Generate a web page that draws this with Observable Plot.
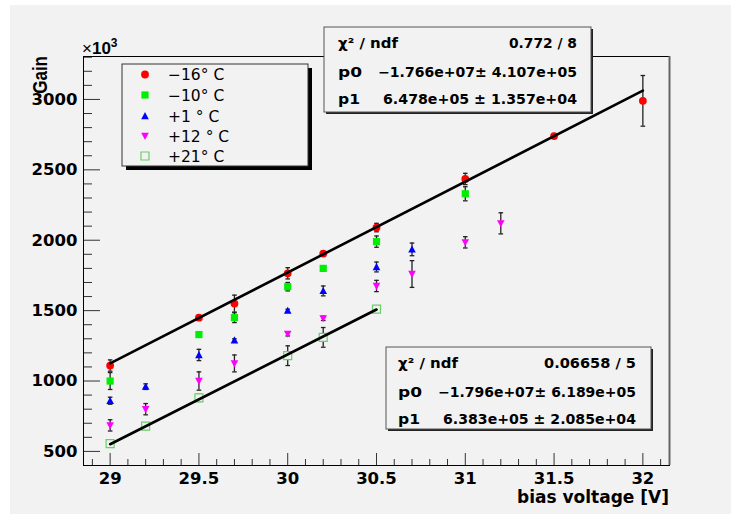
<!DOCTYPE html>
<html><head><meta charset="utf-8">
<script src="https://cdn.jsdelivr.net/npm/d3@7"></script>
<script src="https://cdn.jsdelivr.net/npm/@observablehq/plot@0.6"></script>
<style>
html,body{margin:0;padding:0;background:#fff;}
#wrap{position:relative;width:731px;height:514px;overflow:hidden;}
#bg{position:absolute;left:10px;top:5px;right:0;bottom:0;background:#f2f2f2;}
#wrap svg{position:absolute;left:0;top:0;}
</style></head><body><div id="wrap"><div id="bg"></div></div>
<script>
// ---- data (gain in units of 10^3) ----
const seriesNames = ["\u221216\u00b0 C", "\u221210\u00b0 C", "+1 \u00b0 C", "+12 \u00b0 C", "+21\u00b0 C"];

const vM16 = [29, 29.5, 29.7, 30, 30.2, 30.5, 31, 31.5, 32];
const gM16 = [1110, 1450, 1550, 1765, 1905, 2090, 2435, 2740, 2990];
const eM16 = [40, 10, 60, 40, 15, 30, 40, 10, 180];

const vM10 = [29, 29.5, 29.7, 30, 30.2, 30.5, 31];
const gM10 = [1000, 1330, 1450, 1670, 1800, 1990, 2330];
const eM10 = [60, 20, 35, 30, 15, 40, 50];

const vP1 = [29, 29.2, 29.5, 29.7, 30, 30.2, 30.5, 30.7];
const gP1 = [860, 960, 1185, 1290, 1500, 1640, 1810, 1935];
const eP1 = [25, 20, 40, 10, 10, 35, 35, 45];

const vP12 = [29, 29.2, 29.5, 29.7, 30, 30.2, 30.5, 30.7, 31, 31.2];
const gP12 = [685, 800, 1000, 1125, 1335, 1445, 1675, 1760, 1985, 2120];
const eP12 = [40, 40, 65, 60, 15, 15, 40, 95, 40, 75];

const vP21 = [29, 29.2, 29.5, 30, 30.2, 30.5];
const gP21 = [555, 680, 880, 1180, 1310, 1510];
const eP21 = [15, 15, 25, 70, 70, 15];

// fit line end points
const fitColdV = [29, 32];
const fitColdG = [1125, 3062];
const fitWarmV = [29, 30.5];
const fitWarmG = [551, 1508];

// fit statistics boxes
const statColdLabels = ["\u03c7\u00b2 / ndf", "p0", "p1"];
const statColdValues = ["0.772 / 8", "\u22121.766e+07\u00b1 4.107e+05", "6.478e+05 \u00b1 1.357e+04"];
const statWarmLabels = ["\u03c7\u00b2 / ndf", "p0", "p1"];
const statWarmValues = ["0.06658 / 5", "\u22121.796e+07\u00b1 6.189e+05", "6.383e+05 \u00b1 2.085e+04"];

// axis ticks and titles
const xMajor = [29, 29.5, 30, 30.5, 31, 31.5, 32];
const xMinor = d3.range(289, 322).filter(d => d % 5 !== 0).map(d => d / 10);
const yMajor = [500, 1000, 1500, 2000, 2500, 3000];
const yMinor = d3.range(400, 3301, 100).filter(d => d % 500 !== 0);
const xTitle = "bias voltage [V]";
const yTitle = "Gain";
const yExponent = "\u00d710";

// ---- helpers ----
const BG = "#f2f2f2";
const rows = (v, g, e) => v.map((x, i) => ({v: x, g: g[i], e: e ? e[i] : 0}));
const sym = fn => ({draw(ctx, size) { fn(ctx, Math.sqrt(size / Math.PI)); }});
const triUp = sym((c, r) => { c.moveTo(0, -r); c.lineTo(r * 0.95, r * 0.8); c.lineTo(-r * 0.95, r * 0.8); c.closePath(); });
const triDown = sym((c, r) => { c.moveTo(0, r); c.lineTo(r * 0.95, -r * 0.8); c.lineTo(-r * 0.95, -r * 0.8); c.closePath(); });
const square = sym((c, r) => { c.rect(-r, -r, 2 * r, 2 * r); });
const circle = sym((c, r) => { c.moveTo(r, 0); c.arc(0, 0, r, 0, 2 * Math.PI); });
const cap = sym((c, r) => { c.moveTo(-r, 0); c.lineTo(r, 0); });

const series = [
  {data: rows(vM16, gM16, eM16), symbol: circle, r: 3.9, fill: "#ff0000", stroke: "none"},
  {data: rows(vM10, gM10, eM10), symbol: square, r: 3.6, fill: "#00ee00", stroke: "none"},
  {data: rows(vP1, gP1, eP1), symbol: triUp, r: 4, fill: "#0000ff", stroke: "none"},
  {data: rows(vP12, gP12, eP12), symbol: triDown, r: 4, fill: "#ff00ff", stroke: "none"},
  {data: rows(vP21, gP21, eP21), symbol: square, r: 4, fill: BG, stroke: "#66d066"}
];

const W = 731, H = 514, mL = 83, mR = 62, mT = 56, mB = 49;
const fw = W - mL - mR, fh = H - mT - mB;
const SANS = "'DejaVu Sans', Verdana, sans-serif";
const NARROW = "'Liberation Sans', Arial, sans-serif";

const marks = [];
// ticks (inside the frame)
marks.push(Plot.ruleY(yMajor, {y: d => d, insetRight: fw - 17, stroke: "#333"}));
marks.push(Plot.ruleY(yMinor, {y: d => d, insetRight: fw - 9, stroke: "#333"}));
marks.push(Plot.ruleX(xMajor, {x: d => d, insetTop: fh - 12, stroke: "#333"}));
marks.push(Plot.ruleX(xMinor, {x: d => d, insetTop: fh - 6, stroke: "#333"}));

for (const s of series) {
  marks.push(Plot.ruleX(s.data, {x: "v", y1: d => d.g - d.e, y2: d => d.g + d.e, stroke: "#222", strokeWidth: 1.3}));
  marks.push(Plot.dot(s.data, {x: "v", y: d => d.g + d.e, symbol: cap, r: 2.3, stroke: "#222", strokeWidth: 1.3, fill: "none"}));
  marks.push(Plot.dot(s.data, {x: "v", y: d => d.g - d.e, symbol: cap, r: 2.3, stroke: "#222", strokeWidth: 1.3, fill: "none"}));
  marks.push(Plot.dot(s.data, {x: "v", y: "g", symbol: s.symbol, r: s.r, fill: s.fill, stroke: s.stroke, strokeWidth: 1.2}));
}

// fit lines (drawn over the markers, as in the original)
marks.push(Plot.line(rows(fitColdV, fitColdG), {x: "v", y: "g", stroke: "#000", strokeWidth: 2.6}));
marks.push(Plot.line(rows(fitWarmV, fitWarmG), {x: "v", y: "g", stroke: "#000", strokeWidth: 2.6}));

marks.push(Plot.frame({stroke: "#000", strokeWidth: 1}));
marks.push(Plot.axisY(yMajor, {tickSize: 0, tickPadding: 6, fontSize: 16.5, fontWeight: "bold", tickFormat: d => String(d), label: null}));
marks.push(Plot.axisX(xMajor, {tickSize: 0, tickPadding: 7, fontSize: 16.5, fontWeight: "bold", tickFormat: d => String(d), label: null}));

const svg = Plot.plot({
  width: W, height: H,
  marginLeft: mL, marginRight: mR, marginTop: mT, marginBottom: mB,
  x: {domain: [28.85, 32.15]},
  y: {domain: [400, 3305]},
  style: {background: "transparent", fontFamily: SANS, color: "#000", overflow: "visible"},
  marks
});
document.getElementById("wrap").appendChild(svg);

// ---- overlays: titles, stat boxes and legend ----
const root = d3.select(svg).append("g")
  .attr("font-family", SANS).attr("text-anchor", "start").attr("fill", "#000");

// right frame edge shading
root.append("line").attr("x1", W - mR + 0.5).attr("x2", W - mR + 0.5).attr("y1", mT).attr("y2", H - mB)
  .attr("stroke", "#666").attr("stroke-width", 2);

// axis titles and exponent
root.append("text").attr("x", W - mR).attr("y", 503).attr("text-anchor", "end")
  .attr("font-size", 17).attr("font-weight", "bold").text(xTitle);
root.append("text").attr("transform", `translate(46.5,${mT}) rotate(-90) scale(1,1.2)`).attr("text-anchor", "end")
  .attr("font-family", NARROW).attr("font-size", 17).attr("font-weight", "bold").text(yTitle);
const ex = root.append("text").attr("x", mL - 1).attr("y", mT - 2).attr("font-family", NARROW)
  .attr("font-size", 17).attr("font-weight", "bold");
ex.append("tspan").attr("font-weight", "normal").text(yExponent.slice(0, 1));
ex.append("tspan").text(yExponent.slice(1));
ex.append("tspan").attr("font-size", 12).attr("dy", -7).text("3");

function statBox(x, y, w, h, labels, values, labelX, valueX, rowY, labelW, valueW) {
  const g = root.append("g");
  g.append("rect").attr("x", x + 2).attr("y", y + 2).attr("width", w).attr("height", h).attr("fill", "#222");
  g.append("rect").attr("x", x).attr("y", y).attr("width", w).attr("height", h).attr("fill", BG).attr("stroke", "#555").attr("stroke-width", 1);
  labels.forEach((lab, i) => {
    g.append("text").attr("x", labelX).attr("y", rowY[i]).attr("dy", "0.35em")
      .attr("text-anchor", "start").attr("font-size", 13.5).attr("font-weight", "bold")
      .attr("textLength", labelW[i]).attr("lengthAdjust", "spacingAndGlyphs").text(lab);
  });
  values.forEach((val, i) => {
    g.append("text").attr("x", valueX).attr("y", rowY[i]).attr("dy", "0.35em")
      .attr("text-anchor", "end").attr("font-size", 13.5).attr("font-weight", "bold")
      .attr("textLength", valueW[i]).attr("lengthAdjust", "spacingAndGlyphs").text(val);
  });
}
statBox(324, 27, 267, 85, statColdLabels, statColdValues, 338, 577, [43, 72, 99.5], [60, 24, 22], [68, 199, 194]);
statBox(386, 347, 265, 82, statWarmLabels, statWarmValues, 398, 636, [363, 392, 419.5], [60, 24, 22], [92, 198, 193]);

// legend
const lg = root.append("g");
lg.append("rect").attr("x", 126).attr("y", 68).attr("width", 186).attr("height", 102).attr("fill", "#000");
lg.append("rect").attr("x", 122).attr("y", 64).attr("width", 186).attr("height", 102).attr("fill", BG).attr("stroke", "#333").attr("stroke-width", 1);
const legY = [74.5, 95, 116, 136, 156];
series.forEach((s, i) => {
  const r = s.r;
  const path = d3.path();
  s.symbol.draw(path, r * r * Math.PI);
  lg.append("path").attr("d", path.toString()).attr("transform", `translate(145,${legY[i]})`)
    .attr("fill", s.fill).attr("stroke", s.stroke).attr("stroke-width", 1.2);
  lg.append("text").attr("x", 168).attr("y", legY[i]).attr("dy", "0.36em").attr("text-anchor", "start")
    .attr("font-size", 15.5).text(seriesNames[i]);
});
</script>
</body></html>
